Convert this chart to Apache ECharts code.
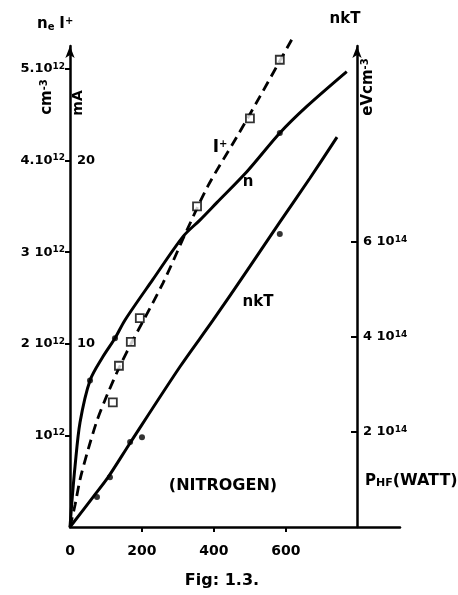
<!DOCTYPE html>
<html><head><meta charset="utf-8">
<script src="https://cdn.jsdelivr.net/npm/echarts@6/dist/echarts.min.js"></script>
<style>html,body{margin:0;padding:0;background:#fff}#c{width:458px;height:595px}</style>
</head><body><div id="c"></div>
<script>
// ---- axis ticks / labels ----
const powerTickValues = [200, 400, 600];
const powerLabelValues = [0, 200, 400, 600];
const neTicks = [1, 2, 3, 4, 5];               // x 10^12 cm^-3
const neTickLabels = ['10', '2 10', '3 10', '4.10', '5.10'];
const ionTicks = [10, 20];                      // mA
const nktTicks = [2, 4, 6];                     // x 10^14 eV cm^-3
const nktTickLabels = ['2 10', '4 10', '6 10'];

// ---- n_e curve (solid) ----
const etaPower   = [0, 5.6, 13.9, 27.8, 55.6, 91.7, 125, 153, 230, 314, 361, 408, 492, 583, 658, 769];
const etaDensity = [0, 0.29, 0.66, 1.14, 1.60, 1.86, 2.06, 2.26, 2.70, 3.17, 3.35, 3.54, 3.88, 4.30, 4.59, 4.97];
const etaMarkPower   = [55.6, 125, 583];
const etaMarkDensity = [1.60, 2.06, 4.30];

// ---- I+ curve (dashed, mA) ----
const ionPower   = [0, 14, 28, 50, 75, 103, 139, 175, 258, 325, 383, 464, 528, 619];
const ionCurrent = [0, 1.2, 2.6, 4.2, 5.8, 7.2, 8.8, 10.2, 13.3, 16.2, 18.6, 21.3, 23.5, 26.7];
const ionMarkPower   = [119, 136, 169, 194, 353, 500, 583];
const ionMarkCurrent = [6.8, 8.8, 10.1, 11.4, 17.5, 22.3, 25.5];

// ---- nkT curve (solid) ----
const nktPower = [0, 64, 106, 167, 306, 397, 492, 583, 667, 742];
const nktValue = [0, 0.63, 1.05, 1.77, 3.38, 4.35, 5.40, 6.42, 7.35, 8.21];
const nktMarkPower = [75, 111, 167, 200, 583];
const nktMarkValue = [0.63, 1.05, 1.79, 1.89, 6.17];

const zip = (xs, ys) => xs.map((x, i) => [x, ys[i]]);
const F = 'DejaVu Sans';
const K = '#000';
const base = { fontFamily: F, fontWeight: 'bold', color: K };
const supRich = {
  b: Object.assign({}, base, { fontSize: 13, lineHeight: 14 }),
  s: Object.assign({}, base, { fontSize: 9, lineHeight: 10, verticalAlign: 'top', padding: [0, 0, 8, 0] })
};
const gBase = { fontFamily: F, fontWeight: 'bold', fill: K };
function gtext(x, y, text, size, extra) {
  return Object.assign({
    type: 'text', x: x, y: y, z: 20,
    style: { text: text, fill: K, font: 'bold ' + size + 'px "DejaVu Sans"', align: 'center', verticalAlign: 'middle' }
  }, extra || {});
}
function grich(x, y, text, rich, align, rotation) {
  return {
    type: 'text', x: x, y: y, z: 20, rotation: rotation || 0,
    style: { text: text, rich: rich, fill: K, font: 'bold 14px "DejaVu Sans"', align: align || 'center', verticalAlign: 'middle' }
  };
}
const gSup = {
  b: Object.assign({}, gBase, { fontSize: 15, lineHeight: 16 }),
  s: Object.assign({}, gBase, { fontSize: 10, lineHeight: 10, verticalAlign: 'top', padding: [0, 0, 8, 0] }),
  u: Object.assign({}, gBase, { fontSize: 10, lineHeight: 10, verticalAlign: 'bottom', padding: [8, 0, 0, 0] })
};

const chart = echarts.init(document.getElementById('c'), null, { renderer: 'canvas' });
chart.setOption({
  animation: false,
  backgroundColor: '#fff',
  grid: { left: 70, right: 58, top: 46, bottom: 68 },
  xAxis: {
    type: 'value', min: 0, max: 917,
    splitLine: { show: false },
    axisLine: { show: true, onZero: false, lineStyle: { color: K, width: 2.5 } },
    axisTick: { show: true, customValues: powerTickValues, length: 5, lineStyle: { color: K, width: 2 } },
    axisLabel: { customValues: powerLabelValues, fontFamily: F, fontWeight: 'bold', fontSize: 14, color: K, margin: 17 }
  },
  yAxis: [
    {
      type: 'value', position: 'left', min: 0, max: 5.25,
      splitLine: { show: false },
      axisLine: { show: true, onZero: false, symbol: ['none', 'arrow'], symbolSize: [7, 12], lineStyle: { color: K, width: 2.5 } },
      axisTick: { show: true, customValues: neTicks, length: 5, lineStyle: { color: K, width: 2 } },
      axisLabel: {
        customValues: neTicks, margin: 5, rich: supRich,
        formatter: v => { const i = neTicks.indexOf(v); return i < 0 ? '' : '{b|' + neTickLabels[i] + '}{s|12}'; }
      }
    },
    {
      type: 'value', position: 'left', min: 0, max: 26.25,
      splitLine: { show: false },
      axisLine: { show: false },
      axisTick: { show: false },
      axisLabel: { inside: true, customValues: ionTicks, margin: 7, fontFamily: F, fontWeight: 'bold', fontSize: 13, color: K }
    },
    {
      type: 'value', position: 'right', offset: -43, min: 0, max: 10.13,
      splitLine: { show: false },
      axisLine: { show: true, onZero: false, symbol: ['none', 'arrow'], symbolSize: [7, 12], lineStyle: { color: K, width: 2.5 } },
      axisTick: { show: true, inside: true, customValues: nktTicks, length: 6, lineStyle: { color: K, width: 2 } },
      axisLabel: {
        customValues: nktTicks, margin: 6, rich: supRich,
        formatter: v => { const i = nktTicks.indexOf(v); return i < 0 ? '' : '{b|' + nktTickLabels[i] + '}{s|14}'; }
      }
    }
  ],
  series: [
    { type: 'line', name: 'ne', yAxisIndex: 0, data: zip(etaPower, etaDensity), smooth: 0.3, showSymbol: false, clip: false,
      lineStyle: { color: K, width: 3 } },
    { type: 'scatter', yAxisIndex: 0, data: zip(etaMarkPower, etaMarkDensity), symbol: 'circle', symbolSize: 6, itemStyle: { color: K }, z: 5 },
    { type: 'line', name: 'I+', yAxisIndex: 1, data: zip(ionPower, ionCurrent), smooth: 0.3, showSymbol: false, clip: false,
      lineStyle: { color: K, width: 2.8, type: [10, 6] } },
    { type: 'scatter', yAxisIndex: 1, data: zip(ionMarkPower, ionMarkCurrent), symbol: 'rect', symbolSize: 8, clip: false,
      itemStyle: { color: '#fff', borderColor: K, borderWidth: 1.8 }, z: 6 },
    { type: 'line', name: 'nkT', yAxisIndex: 2, data: zip(nktPower, nktValue), smooth: 0.3, showSymbol: false, clip: false,
      lineStyle: { color: K, width: 3 } },
    { type: 'scatter', yAxisIndex: 2, data: zip(nktMarkPower, nktMarkValue), symbol: 'circle', symbolSize: 6, itemStyle: { color: K }, z: 5 }
  ],
  graphic: [
    grich(37, 24, '{b|n}{u|e} {b|I}{s|+}', gSup, 'left'),
    gtext(345, 19, 'nkT', 15),
    grich(47, 97, '{b|cm}{s|-3}', gSup, 'center', Math.PI / 2),
    gtext(78, 103, 'mA', 14, { rotation: Math.PI / 2 }),
    grich(368, 87, '{b|eVcm}{s|-3}', gSup, 'center', Math.PI / 2),
    grich(365, 481, '{p|P}{u|HF}{w|(WATT)}', Object.assign({}, gSup, {
      p: Object.assign({}, gBase, { fontSize: 15, lineHeight: 16 }),
      u: Object.assign({}, gBase, { fontSize: 11, lineHeight: 10, verticalAlign: 'bottom', padding: [10, 0, 0, 0] }),
      w: Object.assign({}, gBase, { fontSize: 16, lineHeight: 16 })
    }), 'left'),
    gtext(223, 486, '(NITROGEN)', 16),
    gtext(222, 581, 'Fig: 1.3.', 16),
    grich(220, 148, '{b|I}{s|+}', Object.assign({}, gSup, { b: Object.assign({}, gBase, { fontSize: 17, lineHeight: 18 }) }), 'center'),
    gtext(248, 182, 'n', 15),
    gtext(258, 302, 'nkT', 15)
  ]
});
</script>
</body></html>
